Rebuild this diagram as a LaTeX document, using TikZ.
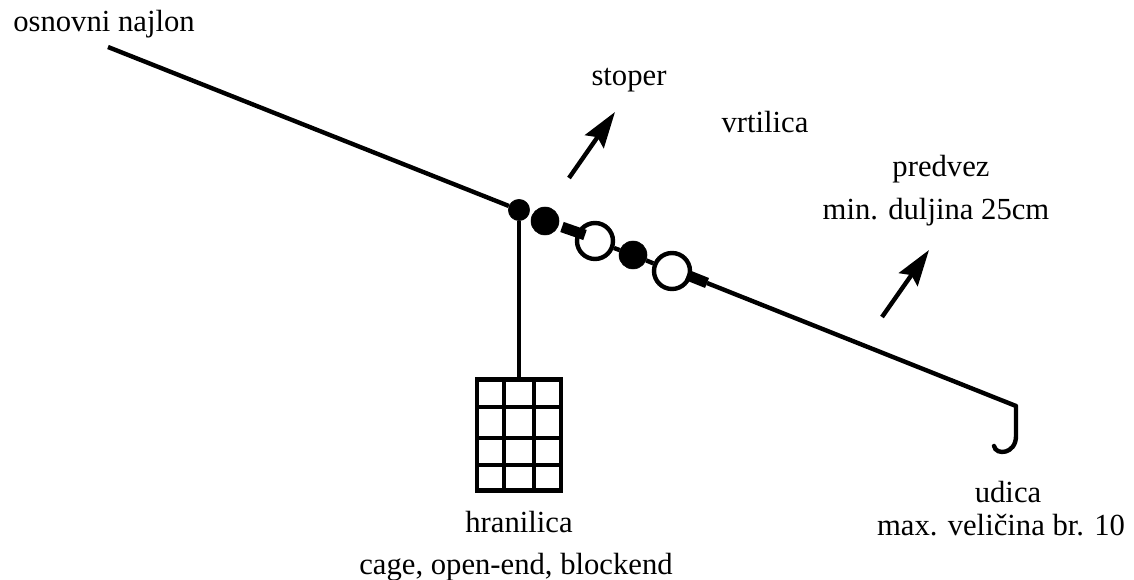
\documentclass[tikz,border=0pt]{standalone}
\usepackage{fontspec}
\setmainfont{Liberation Serif}
\usetikzlibrary{arrows.meta}
\usetikzlibrary{calc,positioning}

\begin{document}
\begin{tikzpicture}[x=0.75pt, y=-0.75pt,
  ball/.style = {circle, draw, fill=black, inner sep=0},
  ring/.style = {circle, draw, line width=3.3pt, fill=white, inner sep=0, minimum size=27pt},
  label/.style = {inner sep=0, anchor=base, font=\fontsize{23}{23}\selectfont},
  tie/.style = {line width=8pt},
  line/.style = {line width=3.3pt},
  pointer/.style = {-{Stealth[length=27pt, width=17pt, inset=4pt]}, line width=3.3pt}]

\useasboundingbox (0,0) rectangle (1134,580);

\coordinate (start) at (108,47);
\coordinate (hookTop) at (1016,406);
\coordinate (hookEnd) at (994,446);
\node[ball, minimum size=16pt](knot) at (519,210){};
\node[ball, minimum size=21pt](bead1) at (545,221){};
\node[ball, minimum size=21pt](bead2) at (633,255){};
\node[ring](swivel1) at (595,241){};
\node[ring](swivel2) at (672,271){};
\coordinate (tie1a) at (562,227);
\coordinate (tie1b) at (585,235);
\coordinate (tie2a) at (687,275);
\coordinate (tie2b) at (707,283);
\node[draw, line width=3.3pt, minimum width=63pt, minimum height=83pt, inner sep=0](cage) at (519,435){};

\node[label](najlon) at (104,32){osnovni najlon};
\node[label](stoper) at (629,86){stoper};
\node[label](vrtilica) at (765,133){vrtilica};
\node[label](predvez) at (941,177){predvez};
\node[label](duljina) at (936,220){min. duljina 25cm};
\node[label](udica) at (1008,502){udica};
\node[label](velicina) at (1001,535){max. veli\v{c}ina br. 10};
\node[label](hranilica) at (519,532){hranilica};
\node[label](tip) at (516,574){cage, open-end, blockend};

\coordinate (arrow1a) at (569,178);
\coordinate (arrow1b) at (615,112);
\coordinate (arrow2a) at (882,317);
\coordinate (arrow2b) at (929,250);

\draw [line] (start) to (knot);
\draw [line] (knot) to (cage.north -| knot);
\draw [line] (swivel1) to (bead2);
\draw [line] (bead2) to (swivel2);
\draw [tie] (tie1a) to (tie1b);
\draw [tie] (tie2a) to (tie2b);
\draw [line] (tie2b) to (hookTop);
\draw [line, line cap=round] (hookTop) -- ++(0,30) .. controls ($(hookTop)+(0,48)$) and ($(hookEnd)+(2,10)$) .. (hookEnd);

% cage grid
\draw [line] (504,378) to (504,492);
\draw [line] (534,378) to (534,492);
\draw [line] (475,407) to (563,407);
\draw [line] (475,438) to (563,438);
\draw [line] (475,465) to (563,465);

\draw [pointer] (arrow1a) to (arrow1b);
\draw [pointer] (arrow2a) to (arrow2b);

\end{tikzpicture}
\end{document}
